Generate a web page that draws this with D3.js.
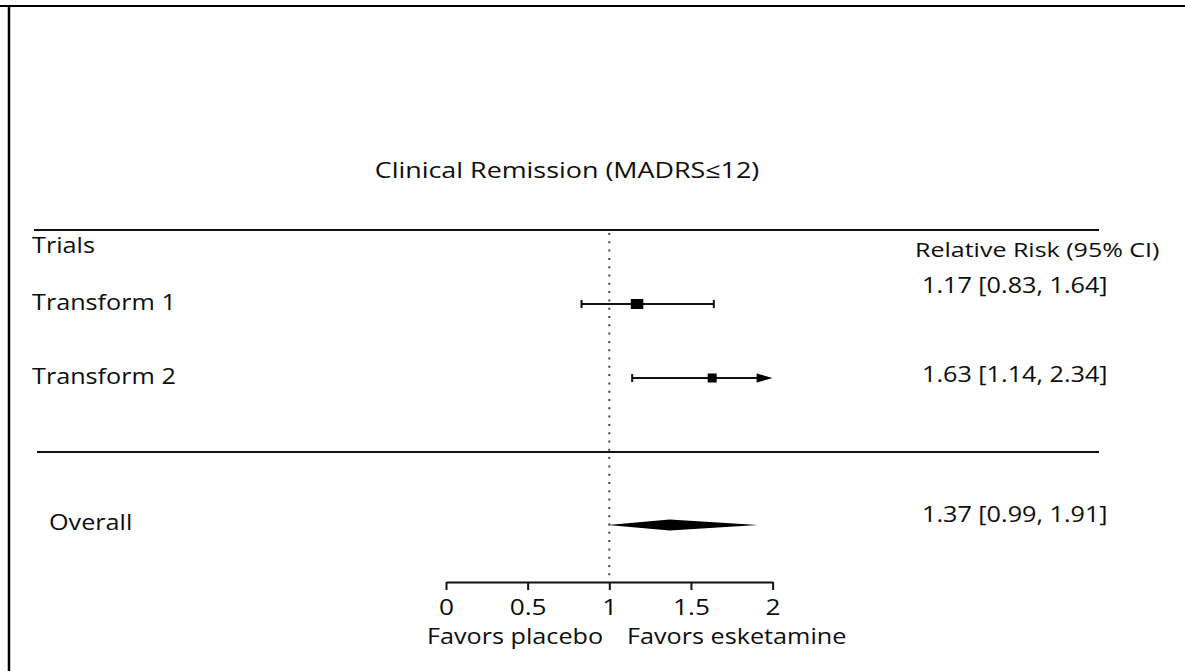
<!DOCTYPE html>
<html>
<head>
<meta charset="utf-8">
<script src="https://cdn.jsdelivr.net/npm/d3@7"></script>
<style>
  html, body { margin: 0; padding: 0; background: #fff; overflow: hidden; }
  svg { display: block; }
  text { font-family: "Open Sans", "Noto Sans", sans-serif; fill: #0d0d0d; }
</style>
</head>
<body>
<div id="chart"></div>
<script>
// Data
const trials = ["Transform 1", "Transform 2"];
const estimates = [1.17, 1.63];
const lowers = [0.83, 1.14];
const uppers = [1.64, 2.34];
const overallLabel = "Overall";
const overallEst = [1.37];
const overallLow = [0.99];
const overallHigh = [1.91];
const tickValues = [0, 0.5, 1, 1.5, 2];
const titleText = "Clinical Remission (MADRS\u226412)";
const colHeaders = ["Trials", "Relative Risk (95% CI)"];
const favorsText = ["Favors placebo", "Favors esketamine"];

const width = 1185;
const height = 671;

const svg = d3.select("#chart")
    .append("svg")
    .attr("width", width)
    .attr("height", height);

// frame lines (top and left only)
svg.append("line")
    .attr("x1", 0).attr("x2", width)
    .attr("y1", 6).attr("y2", 6)
    .attr("stroke", "#000").attr("stroke-width", 2);
svg.append("line")
    .attr("x1", 9).attr("x2", 9)
    .attr("y1", 5).attr("y2", height)
    .attr("stroke", "#000").attr("stroke-width", 2.5);

// x scale: relative risk, clipped at 2
const x = d3.scaleLinear().domain([0, 2]).range([446, 772.6]);
const xMax = 2;

const rowY = [304, 378];
const overallY = 525;
const boxW = [12.5, 9];
const boxH = [10, 9];

const fmt = d3.format(".2f");

// stretched text helper (source font was rendered a bit wide)
function label(xp, yp, str, size, anchor, sx) {
    return svg.append("text")
        .attr("transform", `translate(${xp},${yp}) scale(${sx || 1.2},1)`)
        .attr("text-anchor", anchor || "start")
        .style("font-size", size + "px")
        .text(str);
}

// title
label(567, 178, titleText, 21.5, "middle", 1.25);

// separator lines
svg.append("line")
    .attr("x1", 34).attr("x2", 1099)
    .attr("y1", 230).attr("y2", 230)
    .attr("stroke", "#111").attr("stroke-width", 2);
svg.append("line")
    .attr("x1", 37).attr("x2", 1099)
    .attr("y1", 452).attr("y2", 452)
    .attr("stroke", "#111").attr("stroke-width", 2);

// column headers
label(32, 253, colHeaders[0], 21, "start", 1.2);
label(915, 257, colHeaders[1], 20.5, "start", 1.22);

// null line
svg.append("line")
    .attr("x1", x(1)).attr("x2", x(1))
    .attr("y1", 233).attr("y2", 576)
    .attr("stroke", "#444")
    .attr("stroke-width", 2)
    .attr("stroke-dasharray", "2,6.3");

// trial rows
trials.forEach((name, i) => {
    const y = rowY[i];
    label(32, y + 6, name, 21, "start", 1.2);
    label(922, y - 11 + (i === 1 ? 15 : 0), `${fmt(estimates[i])} [${fmt(lowers[i])}, ${fmt(uppers[i])}]`, 21, "start", 1.2);

    const hi = Math.min(uppers[i], xMax);
    const clipped = uppers[i] > xMax;
    const lineEnd = clipped ? x(hi) - 14 : x(hi);

    svg.append("line")
        .attr("x1", x(lowers[i])).attr("x2", lineEnd)
        .attr("y1", y).attr("y2", y)
        .attr("stroke", "#111").attr("stroke-width", 2);

    // left cap
    svg.append("line")
        .attr("x1", x(lowers[i])).attr("x2", x(lowers[i]))
        .attr("y1", y - 4).attr("y2", y + 4)
        .attr("stroke", "#111").attr("stroke-width", 2);

    if (clipped) {
        svg.append("path")
            .attr("d", `M${x(hi) - 16},${y - 4.5} L${x(hi)},${y} L${x(hi) - 16},${y + 4.5} Z`)
            .attr("fill", "#000");
    } else {
        svg.append("line")
            .attr("x1", x(hi)).attr("x2", x(hi))
            .attr("y1", y - 4).attr("y2", y + 4)
            .attr("stroke", "#111").attr("stroke-width", 2);
    }

    svg.append("rect")
        .attr("x", x(estimates[i]) - boxW[i] / 2)
        .attr("y", y - boxH[i] / 2)
        .attr("width", boxW[i])
        .attr("height", boxH[i])
        .attr("fill", "#000");
});

// overall row
label(49, overallY + 5, overallLabel, 21, "start", 1.2);
label(922, overallY - 3, `${fmt(overallEst[0])} [${fmt(overallLow[0])}, ${fmt(overallHigh[0])}]`, 21, "start", 1.2);

svg.append("path")
    .attr("d", `M${x(overallLow[0])},${overallY} L${x(overallEst[0])},${overallY - 5.5} L${x(overallHigh[0])},${overallY} L${x(overallEst[0])},${overallY + 5.5} Z`)
    .attr("fill", "#000");

// axis
const axis = svg.append("g")
    .attr("transform", "translate(0,582)")
    .call(d3.axisBottom(x).tickValues(tickValues).tickSize(8).tickSizeOuter(0).tickFormat(d3.format("")));

axis.select(".domain").attr("stroke", "#111").attr("stroke-width", 2);
axis.selectAll(".tick line").attr("stroke", "#111").attr("stroke-width", 2);
axis.selectAll(".tick text")
    .attr("y", 0)
    .attr("dy", 0)
    .attr("transform", "translate(0,33) scale(1.22,1)")
    .attr("fill", "#0d0d0d")
    .style("font-family", "'Open Sans', sans-serif")
    .style("font-size", "21.5px");

// favors labels
label(427, 644, favorsText[0], 21, "start", 1.2);
label(627, 644, favorsText[1], 21, "start", 1.2);
</script>
</body>
</html>
